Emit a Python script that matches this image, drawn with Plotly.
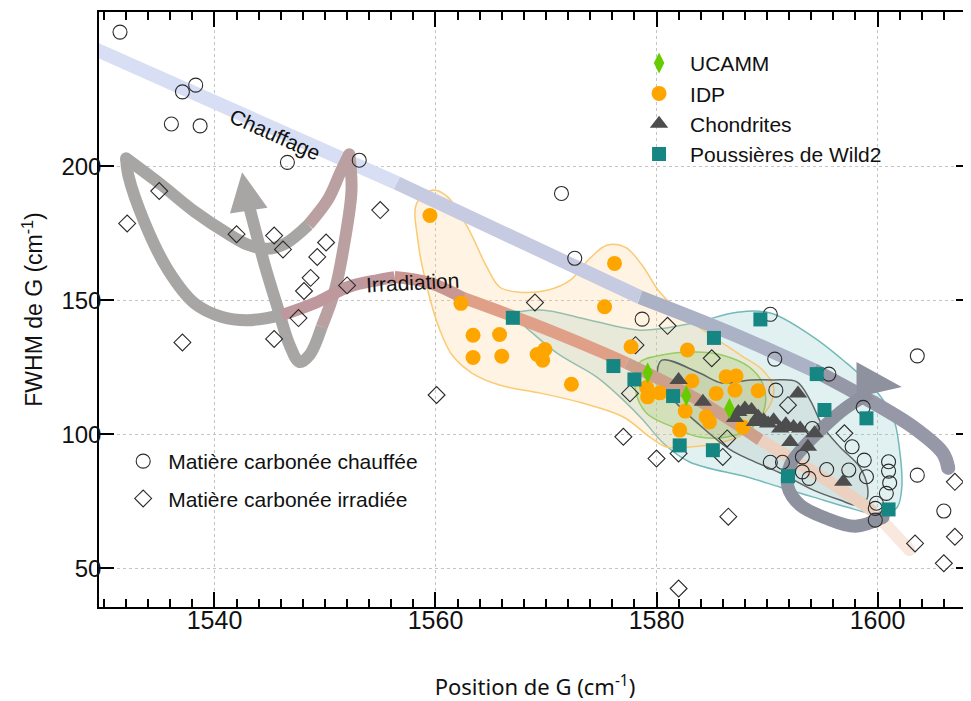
import plotly.graph_objects as go

# ---- données (position de G en cm-1, largeur FWHM de G en cm-1) ----
chauffee_x = [1531.45, 1537.1, 1538.3, 1536.1, 1538.7, 1546.6, 1553.1, 1571.4, 1572.6, 1578.7,
              1590.3, 1590.7, 1595.6, 1590.8, 1594.1, 1598.7, 1597.7, 1593.2, 1598.8, 1590.3,
              1591.4, 1595.4, 1597.4, 1599.0, 1593.2, 1593.8, 1601.0, 1601.0, 1601.1, 1600.8,
              1599.9, 1599.8, 1599.8, 1603.6, 1603.6, 1606.0]
chauffee_y = [250.1, 227.8, 230.3, 215.8, 215.1, 201.5, 202.3, 189.9, 165.7, 143.0,
              144.8, 128.1, 122.5, 116.5, 102.2, 110.1, 95.4, 91.6, 90.4, 89.6,
              89.6, 86.9, 86.7, 84.2, 86.0, 83.6, 89.8, 86.3, 81.9, 78.0,
              74.3, 72.4, 68.0, 129.3, 84.8, 71.4]

irradiee_x = [1535.0, 1532.1, 1542.0, 1545.4, 1546.2, 1550.1, 1549.3, 1548.7, 1548.1, 1552.0,
              1547.6, 1545.4, 1537.1, 1555.0, 1569.0, 1560.1, 1577.0, 1580.0, 1582.0, 1586.5,
              1582.0, 1586.0, 1586.4, 1577.6, 1581.0, 1578.1, 1585.0, 1591.9, 1597.0, 1607.0,
              1603.4, 1607.0, 1606.0]
irradiee_y = [190.8, 178.7, 174.7, 174.2, 169.0, 171.6, 166.2, 158.4, 153.5, 155.6,
              143.4, 135.6, 134.3, 183.7, 149.2, 114.7, 99.1, 91.0, 92.9, 69.3,
              42.5, 91.6, 98.5, 115.3, 140.5, 133.3, 128.4, 110.9, 100.4, 82.3,
              59.3, 61.8, 51.9]

ucamm_x = [1579.2, 1582.7, 1586.6]
ucamm_y = [123.0, 114.4, 109.7]

idp_x = [1559.5, 1562.3, 1563.4, 1565.8, 1563.4, 1566.0, 1569.2, 1569.9, 1569.7, 1572.3,
         1575.3, 1576.2, 1577.7, 1582.8, 1583.2, 1579.1, 1579.2, 1580.3, 1585.4, 1586.3,
         1587.2, 1587.1, 1589.2, 1582.6, 1584.5, 1584.8, 1582.1, 1587.8]
idp_y = [181.7, 148.9, 137.0, 137.3, 128.7, 129.2, 129.8, 131.7, 127.7, 118.7,
         147.6, 163.8, 132.7, 131.5, 119.9, 117.5, 114.0, 115.5, 115.3, 121.5,
         121.8, 116.5, 116.3, 108.7, 106.6, 104.6, 101.6, 102.8]

chondrites_x = [1582.0, 1584.2, 1587.4, 1588.0, 1588.6, 1589.2, 1589.7, 1590.1, 1590.6, 1591.2,
                1591.7, 1592.4, 1593.0, 1592.8, 1594.3, 1592.1, 1593.7, 1596.9, 1587.1, 1588.9]
chondrites_y = [120.3, 112.2, 108.4, 109.7, 109.1, 106.6, 105.3, 104.1, 105.3, 102.2,
                103.8, 102.8, 102.2, 115.3, 100.4, 97.2, 95.4, 82.3, 106.1, 104.6]

wild2_x = [1567.0, 1576.1, 1578.0, 1585.2, 1589.4, 1581.5, 1582.1, 1585.1, 1594.5, 1595.2,
           1599.0, 1591.9, 1601.0]
wild2_y = [143.5, 125.5, 120.5, 136.0, 142.9, 114.3, 95.9, 94.1, 122.5, 109.1,
           106.0, 84.4, 72.0]

x_ticks = [1540, 1560, 1580, 1600]
y_ticks = [50, 100, 150, 200]

# ---- décor : zones de densité et flèches dessinées (coordonnées des axes) ----
zone_wild2 = [(1566.7, 144.5), (1569.5, 146.4), (1574.0, 142.6), (1578.5, 138.9), (1583.3, 141.5),
              (1587.3, 145.6), (1590.3, 145.3), (1594.2, 136.3), (1597.2, 126.6), (1599.6, 117.6),
              (1601.4, 106.5), (1602.0, 94.1), (1602.2, 80.3), (1601.8, 72.9), (1600.9, 70.6),
              (1599.3, 70.6), (1597.2, 72.9), (1594.2, 76.6), (1591.2, 80.3), (1588.2, 84.1),
              (1583.0, 89.7), (1580.6, 96.8), (1578.8, 105.3), (1577.0, 112.8), (1574.6, 121.4),
              (1571.0, 130.3), (1567.6, 141.9)]
zone_idp = [(1558.3, 186.3), (1559.8, 191.2), (1561.1, 188.6), (1562.9, 177.3), (1564.7, 162.0),
            (1565.8, 155.0), (1567.4, 153.1), (1570.1, 153.8), (1572.2, 157.6), (1574.0, 165.8),
            (1575.5, 170.6), (1577.2, 169.8), (1578.7, 163.1), (1580.3, 153.0), (1583.0, 142.6),
            (1587.6, 129.6), (1589.6, 124.0), (1590.6, 117.6), (1590.4, 112.1), (1589.4, 106.0),
            (1588.0, 100.5), (1585.7, 96.8), (1583.0, 95.3), (1580.9, 95.3), (1579.4, 99.0),
            (1577.0, 106.5), (1573.3, 111.7), (1569.5, 115.4), (1565.8, 118.4), (1563.3, 122.9),
            (1561.5, 129.6), (1560.4, 138.9), (1559.3, 153.8), (1558.4, 172.5)]
zone_ucamm = [(1578.4, 126.6), (1580.5, 129.6), (1583.5, 130.7), (1585.9, 129.6), (1588.4, 125.1),
              (1589.6, 119.1), (1589.8, 110.2), (1588.7, 102.7), (1586.4, 99.0), (1583.9, 99.0),
              (1581.5, 102.7), (1579.1, 107.9), (1578.1, 116.5)]
zone_chondrites = [(1580.5, 127.7), (1583.9, 122.9), (1585.9, 119.2), (1588.5, 120.3), (1590.5, 120.3),
                   (1592.7, 119.6), (1593.9, 112.8), (1595.1, 102.7), (1596.6, 95.3), (1598.4, 87.8),
                   (1599.1, 80.3), (1599.0, 75.5), (1598.1, 73.6), (1596.6, 75.5), (1594.2, 79.2),
                   (1591.2, 85.6), (1588.5, 90.5), (1586.7, 94.2), (1583.9, 103.5), (1581.4, 113.5),
                   (1580.1, 122.1)]

# bandes : (points, couleur, épaisseur)
gris = "rgb(168,165,165)"
rose = "rgb(186,160,160)"
bleu_gris = "rgb(142,145,158)"
bandes = [
    ([(1529.0, 244.1), (1556.5, 193.8)], "rgb(216,223,244)", 14),
    ([(1556.5, 193.8), (1578.5, 151.2)], "rgb(198,203,226)", 14),
    ([(1578.5, 151.2), (1586.7, 137.8), (1594.2, 124.0)], "rgb(172,178,198)", 14),
    ([(1594.2, 124.0), (1598.7, 114.0), (1603.2, 102.8), (1605.9, 93.1), (1606.4, 87.5)], "rgb(150,152,168)", 14),
    ([(1543.1, 185.6), (1543.7, 176.2), (1544.6, 162.4), (1545.7, 147.5), (1546.8, 133.3),
      (1547.7, 127.0), (1548.6, 129.6), (1549.7, 140.1)], gris, 12),
    ([(1549.7, 140.1), (1550.9, 153.9), (1551.8, 172.5), (1552.4, 191.2), (1552.2, 204.5)], rose, 12),
    ([(1552.2, 204.5), (1551.4, 197.8), (1550.3, 187.9), (1548.5, 178.2)], rose, 12),
    ([(1548.5, 178.2), (1546.4, 171.2), (1544.8, 169.3), (1543.0, 170.8), (1541.2, 174.9),
      (1538.2, 183.1), (1535.2, 193.1), (1532.0, 203.0)], gris, 12),
    ([(1532.0, 203.0), (1532.2, 196.7), (1533.7, 178.8), (1535.8, 161.3), (1538.2, 148.9),
      (1540.7, 143.8), (1543.0, 142.6), (1546.1, 144.5)], gris, 12),
    ([(1546.1, 144.5), (1549.1, 149.0), (1552.1, 155.0), (1554.8, 157.6), (1556.3, 158.7)], "rgb(190,152,156)", 12),
    ([(1556.3, 158.7), (1559.5, 156.5), (1562.5, 150.9)], "rgb(202,150,145)", 12),
    ([(1562.5, 150.9), (1568.6, 141.6), (1574.6, 131.5), (1577.3, 126.6)], "rgb(224,160,135)", 12),
    ([(1577.3, 126.6), (1583.3, 114.0), (1589.4, 97.9)], "rgb(205,160,140)", 12),
    ([(1589.4, 97.9), (1595.7, 82.2), (1599.7, 71.0)], "rgb(236,208,192)", 12),
    ([(1599.7, 71.0), (1602.9, 56.8)], "rgb(248,232,222)", 12),
    ([(1600.5, 69.1), (1598.0, 65.7), (1595.3, 68.8), (1593.0, 73.6), (1591.9, 80.3), (1592.1, 88.5),
      (1593.3, 95.2), (1595.0, 102.3), (1597.1, 109.8), (1599.3, 115.4)], bleu_gris, 13),
]
pointes = [
    ([(1542.5, 197.8), (1541.4, 182.4), (1544.8, 184.6)], gris),
    ([(1598.1, 127.0), (1602.2, 117.7), (1598.1, 113.9)], bleu_gris),
]
bouts = [((1552.2, 204.5), rose, 12), ((1532.0, 203.0), gris, 12), ((1606.4, 87.5), "rgb(150,152,168)", 14),
         ((1602.9, 56.8), "rgb(248,232,222)", 12), ((1600.5, 69.1), bleu_gris, 13)]

fig = go.Figure()


def zone(pts, fill, line, width=1.5):
    xs = [p[0] for p in pts] + [pts[0][0]]
    ys = [p[1] for p in pts] + [pts[0][1]]
    fig.add_trace(go.Scatter(x=xs, y=ys, mode="lines", fill="toself", fillcolor=fill,
                             line=dict(color=line, width=width, shape="spline", smoothing=1.0),
                             hoverinfo="skip", showlegend=False))


zone(zone_wild2, "rgba(135,200,202,0.25)", "rgb(115,185,185)")
zone(zone_idp, "rgba(255,210,140,0.24)", "rgb(250,202,115)")
zone(zone_ucamm, "rgba(150,200,90,0.25)", "rgb(150,205,100)")
zone(zone_chondrites, "rgba(90,110,90,0.10)", "rgb(95,100,100)")

for pts, col, w in bandes:
    fig.add_trace(go.Scatter(x=[p[0] for p in pts], y=[p[1] for p in pts], mode="lines",
                             line=dict(color=col, width=w, shape="spline", smoothing=1.0),
                             hoverinfo="skip", showlegend=False))
for pts, col in pointes:
    fig.add_trace(go.Scatter(x=[p[0] for p in pts] + [pts[0][0]], y=[p[1] for p in pts] + [pts[0][1]],
                             mode="lines", fill="toself", fillcolor=col, line=dict(width=0, color=col),
                             hoverinfo="skip", showlegend=False))
for (bx, by), col, w in bouts:
    fig.add_trace(go.Scatter(x=[bx], y=[by], mode="markers", marker=dict(size=w, color=col, line=dict(width=0)),
                             hoverinfo="skip", showlegend=False))

# ---- points ----
open_line = dict(color="#2a2a2a", width=1.1)
fig.add_trace(go.Scatter(x=chauffee_x, y=chauffee_y, mode="markers", name="Matière carbonée chauffée",
                         marker=dict(symbol="circle", size=14, color="rgba(0,0,0,0)", line=open_line),
                         legend="legend2", legendgroup="a"))
fig.add_trace(go.Scatter(x=irradiee_x, y=irradiee_y, mode="markers", name="Matière carbonée irradiée",
                         marker=dict(symbol="diamond", size=13, color="rgba(0,0,0,0)", line=open_line),
                         legend="legend2", legendgroup="b"))
fig.add_trace(go.Scatter(x=idp_x, y=idp_y, mode="markers", name="IDP", legendrank=2,
                         marker=dict(symbol="circle", size=15, color="#ffa500")))
fig.add_trace(go.Scatter(x=wild2_x, y=wild2_y, mode="markers", name="Poussières de Wild2", legendrank=4,
                         marker=dict(symbol="square", size=14, color="#168682")))
fig.add_trace(go.Scatter(x=chondrites_x, y=chondrites_y, mode="markers", name="Chondrites", legendrank=3,
                         marker=dict(symbol="triangle-up", size=16, color="#4d4d4d")))
fig.add_trace(go.Scatter(x=ucamm_x, y=ucamm_y, mode="markers", name="UCAMM", legendrank=1,
                         marker=dict(symbol="diamond-tall", size=15, color="#66cc00")))

fig.add_annotation(x=1545.5, y=212.0, text="Chauffage", showarrow=False, textangle=24,
                   font=dict(family="Liberation Sans, Arial", size=21, color="#111"))
fig.add_annotation(x=1557.9, y=156.6, text="Irradiation", showarrow=False, textangle=-3,
                   font=dict(family="Liberation Sans, Arial", size=21, color="#111"))

axis_common = dict(ticks="inside", ticklen=15, tickwidth=1.5, tickcolor="black", showline=True,
                   linecolor="black", linewidth=1.5, mirror="ticks", showgrid=True, gridcolor="#c4c4c4",
                   griddash="dot", gridwidth=1, zeroline=False, automargin=False)

fig.update_xaxes(range=[1529.55, 1608.46], tickmode="array", tickvals=x_ticks, ticklabelstandoff=-10,
                 tickfont=dict(family="Liberation Sans Narrow, Liberation Sans, Arial", size=25, color="#111"),
                 minor=dict(tickmode="linear", tick0=1540, dtick=2, ticks="inside", ticklen=8,
                            tickcolor="black", showgrid=False),
                 title=dict(text="Position de G (cm<sup>-1</sup>)", standoff=47,
                            font=dict(family="Noto Sans, Liberation Sans", size=22, color="#111")),
                 **axis_common)
fig.update_yaxes(range=[35.6, 257.6], tickmode="array", tickvals=y_ticks, ticklabelstandoff=-9,
                 tickfont=dict(family="Liberation Sans, Arial", size=24, color="#111"),
                 title=dict(text="FWHM de G (cm<sup>-1</sup>)", standoff=12,
                            font=dict(family="Liberation Sans, Arial", size=23, color="#111")),
                 **axis_common)

# la page ajoute une marge de 8 px autour de la figure
fig.update_layout(
    width=963, height=693,
    margin=dict(l=91, r=0, t=4, b=94),
    plot_bgcolor="white", paper_bgcolor="white",
    font=dict(family="Liberation Sans, Arial", size=21, color="#111"),
    hovermode=False,
    legend=dict(x=0.6067, y=0.948, xanchor="left", yanchor="top", bgcolor="rgba(0,0,0,0)",
                itemwidth=52, font=dict(size=21)),
    legend2=dict(x=0.022, y=0.279, xanchor="left", yanchor="top", bgcolor="rgba(0,0,0,0)",
                 itemwidth=40, tracegroupgap=7, font=dict(size=21)),
)

fig.write_html("out.html")
